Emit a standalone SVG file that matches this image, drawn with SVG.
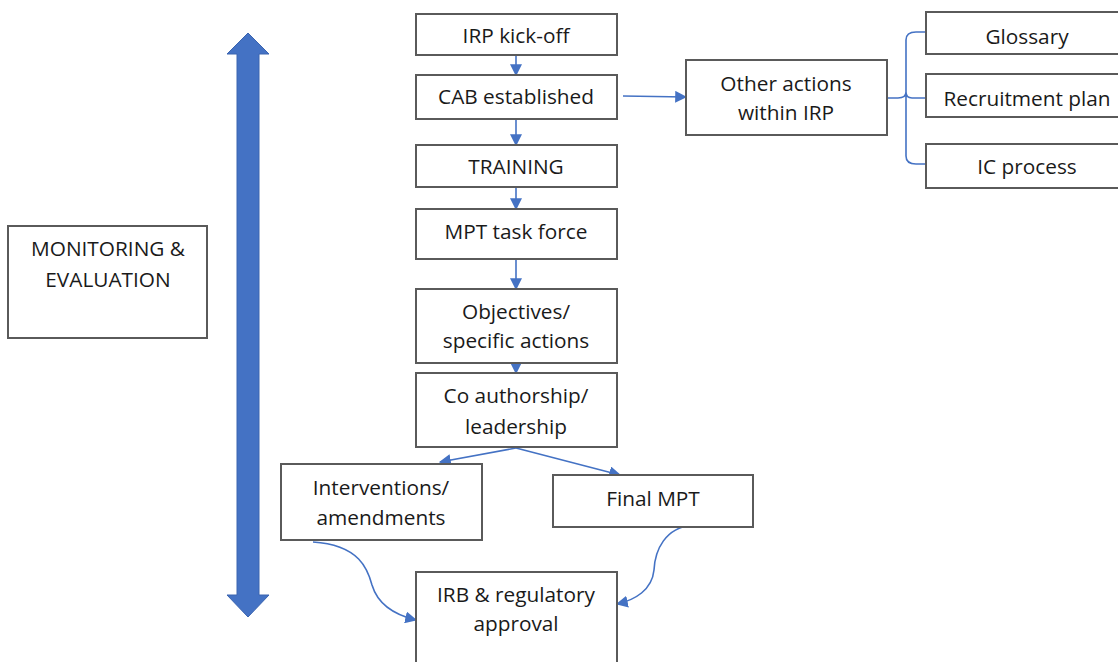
<svg xmlns="http://www.w3.org/2000/svg" width="1118" height="662" viewBox="0 0 1118 662">
<defs>
<style>
.box{fill:#fff;stroke:#5a5a5a;stroke-width:2}
.t{font-family:"Open Sans",Lato,sans-serif;font-size:20.8px;fill:#1a1a1a;text-anchor:middle}
.c{fill:none;stroke:#4472c4;stroke-width:1.6}
</style>
<marker id="ahb" viewBox="0 0 10 10" refX="9" refY="5" markerWidth="12" markerHeight="12" markerUnits="userSpaceOnUse" orient="auto">
<path d="M0,0 L10,5 L0,10 z" fill="#4472c4"/>
</marker>
</defs>
<rect width="1118" height="662" fill="#fff"/>

<g id="monitoring-arrow">
<path d="M248,33 L269,54 L259,54 L259,595 L269,595 L248,617 L227,595 L237,595 L237,54 L227,54 Z" fill="#4472c4" stroke="#3a64b0" stroke-width="1"/>
</g>

<g id="connectors">
<line class="c" x1="516" y1="55" x2="516" y2="75" marker-end="url(#ahb)"/>
<line class="c" x1="516" y1="119" x2="516" y2="145" marker-end="url(#ahb)"/>
<line class="c" x1="516" y1="187" x2="516" y2="209" marker-end="url(#ahb)"/>
<line class="c" x1="516" y1="259" x2="516" y2="289" marker-end="url(#ahb)"/>
<line class="c" x1="516" y1="363" x2="516" y2="373" marker-end="url(#ahb)"/>
<line class="c" x1="623" y1="96" x2="686" y2="97" marker-end="url(#ahb)"/>
<line class="c" x1="516" y1="448" x2="440" y2="462" marker-end="url(#ahb)"/>
<line class="c" x1="516" y1="448" x2="620" y2="475" marker-end="url(#ahb)"/>
<path class="c" d="M313,542 C360,545 368,570 372,585 C378,605 395,615 416,620" marker-end="url(#ahb)"/>
<path class="c" d="M692,525 C665,528 655,550 654,570 C652,590 635,600 617,604" marker-end="url(#ahb)"/>
<path class="c" d="M887,98 L898,98 C904,98 906,96 906,92 L906,40 C906,34 910,32 916,32 L926,32 M906,92 L906,156 C906,162 910,164 916,164 L926,164 M906,92 C906,96 908,98 912,98 L926,98" stroke-width="1.4"/>
</g>

<g id="n-irp"><rect class="box" x="416" y="14" width="201" height="41"/><text class="t" x="516" y="43">IRP kick-off</text></g>
<g id="n-cab"><rect class="box" x="416" y="75" width="201" height="44"/><text class="t" x="516" y="104">CAB established</text></g>
<g id="n-training"><rect class="box" x="416" y="145" width="201" height="42"/><text class="t" x="516" y="174">TRAINING</text></g>
<g id="n-mpt"><rect class="box" x="416" y="209" width="201" height="50"/><text class="t" x="516" y="239">MPT task force</text></g>
<g id="n-obj"><rect class="box" x="416" y="289" width="201" height="74"/><text class="t" x="516" y="319">Objectives/</text><text class="t" x="516" y="348">specific actions</text></g>
<g id="n-co"><rect class="box" x="416" y="373" width="201" height="74"/><text class="t" x="516" y="403">Co authorship/</text><text class="t" x="516" y="434">leadership</text></g>
<g id="n-int"><rect class="box" x="281" y="464" width="201" height="76"/><text class="t" x="381" y="495">Interventions/</text><text class="t" x="381" y="525">amendments</text></g>
<g id="n-final"><rect class="box" x="553" y="475" width="200" height="52"/><text class="t" x="653" y="506">Final MPT</text></g>
<g id="n-irb"><rect class="box" x="416" y="572" width="201" height="100"/><text class="t" x="516" y="602">IRB &amp; regulatory</text><text class="t" x="516" y="631">approval</text></g>
<g id="n-other"><rect class="box" x="686" y="60" width="201" height="75"/><text class="t" x="786" y="91">Other actions</text><text class="t" x="786" y="120">within IRP</text></g>
<g id="n-glossary"><rect class="box" x="926" y="12" width="204" height="42"/><text class="t" x="1027" y="44">Glossary</text></g>
<g id="n-recruit"><rect class="box" x="926" y="74" width="204" height="43"/><text class="t" x="1027" y="106">Recruitment plan</text></g>
<g id="n-ic"><rect class="box" x="926" y="144" width="204" height="44"/><text class="t" x="1027" y="174">IC process</text></g>
<g id="n-monitoring"><rect class="box" x="8" y="226" width="199" height="112"/><text class="t" x="108" y="256">MONITORING &amp;</text><text class="t" x="108" y="287">EVALUATION</text></g>
</svg>
